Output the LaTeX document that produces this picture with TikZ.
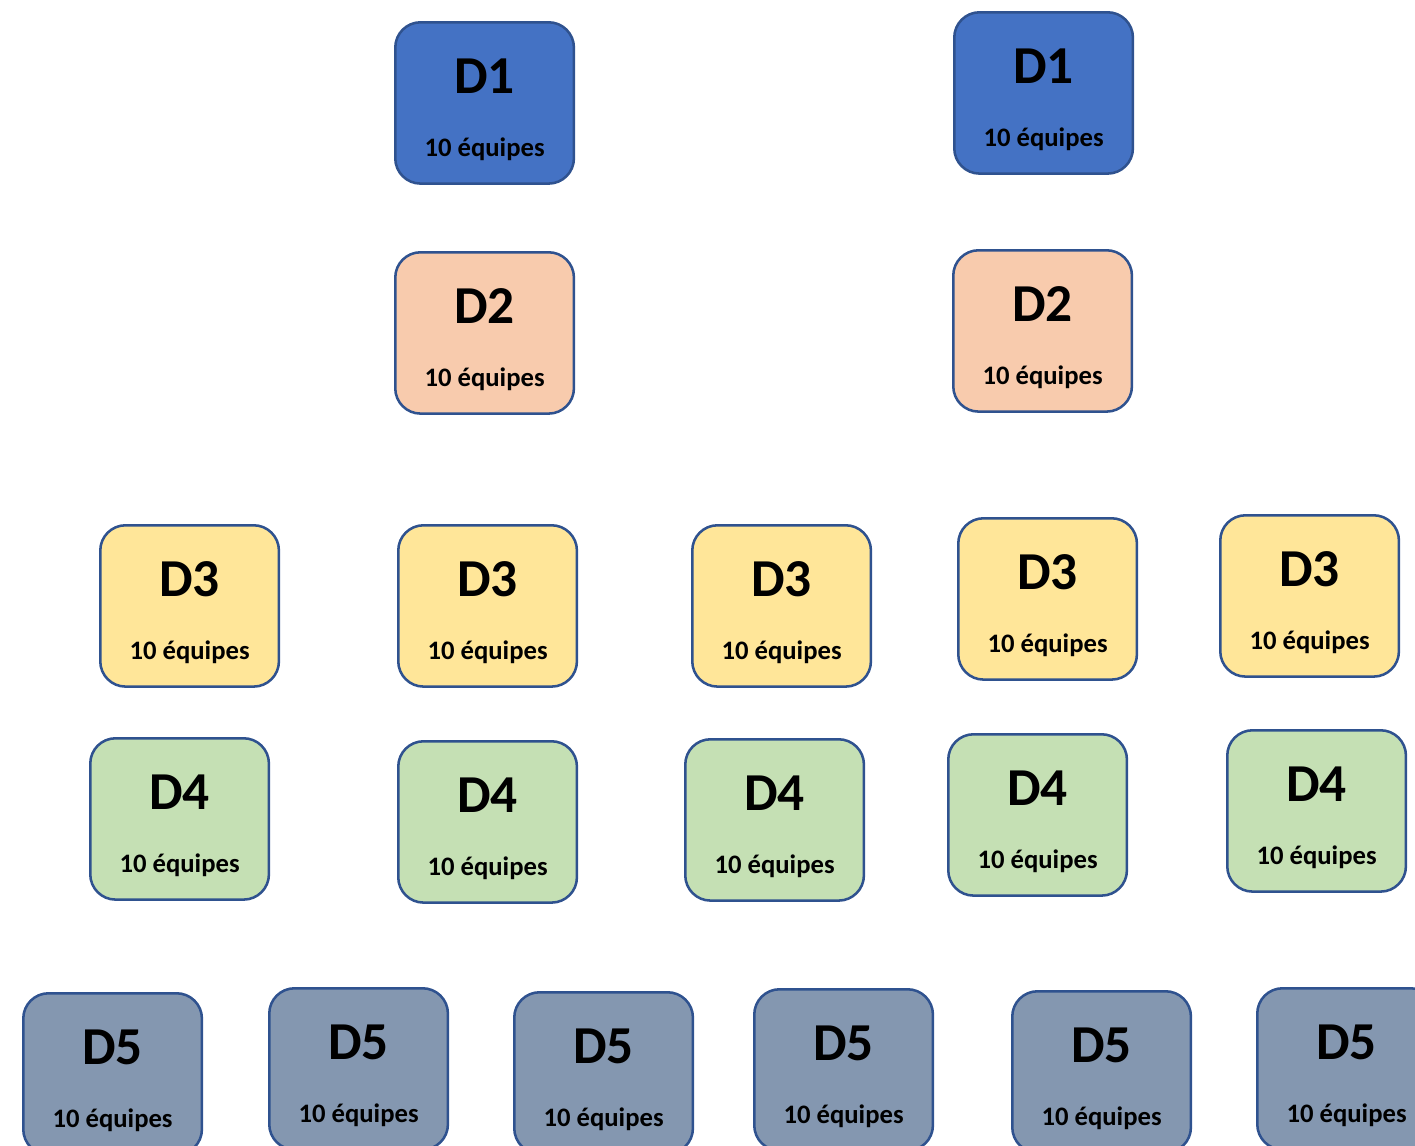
\documentclass[tikz,border=0pt]{standalone}
\usepackage{fontspec}
\setmainfont{Carlito}
\begin{document}
\begin{tikzpicture}[x=0.75pt,y=-0.75pt,
  tile/.style={draw=bordercol,line width=1.9pt,rounded corners=19pt,minimum width=134pt,minimum height=121pt,inner sep=0pt},
  ttl/.style={font=\bfseries\fontsize{40}{40}\selectfont},
  sub/.style={font=\bfseries\fontsize{20}{20}\selectfont}]
\definecolor{bordercol}{HTML}{2F528F}
\definecolor{cA}{HTML}{4472C4}
\definecolor{cB}{HTML}{F8CBAD}
\definecolor{cC}{HTML}{FFE699}
\definecolor{cD}{HTML}{C5E0B4}
\definecolor{cE}{HTML}{8497B0}
\useasboundingbox (0,0) rectangle (1415,1146);
\clip (0,0) rectangle (1415,1146);
\newcommand{\tileat}[5]{% name, left, top, color, label
  \node[tile,fill=#4,anchor=north west] (#1) at (#2-1,#3-1) {};
  \node[ttl] (#1t) at ([yshift=-41.5pt]#1.north) {#5};
  \node[sub] (#1s) at ([yshift=-96.5pt]#1.north) {10 équipes};
}
\tileat{a1}{395}{22}{cA}{D1}
\tileat{a2}{954}{12}{cA}{D1}
\tileat{b1}{395}{252}{cB}{D2}
\tileat{b2}{953}{250}{cB}{D2}
\tileat{c1}{100}{525}{cC}{D3}
\tileat{c2}{398}{525}{cC}{D3}
\tileat{c3}{692}{525}{cC}{D3}
\tileat{c4}{958}{518}{cC}{D3}
\tileat{c5}{1220}{515}{cC}{D3}
\tileat{d1}{90}{738}{cD}{D4}
\tileat{d2}{398}{741}{cD}{D4}
\tileat{d3}{685}{739}{cD}{D4}
\tileat{d4}{948}{734}{cD}{D4}
\tileat{d5}{1227}{730}{cD}{D4}
\tileat{e1}{23}{993}{cE}{D5}
\tileat{e2}{269}{988}{cE}{D5}
\tileat{e3}{514}{992}{cE}{D5}
\tileat{e4}{754}{989}{cE}{D5}
\tileat{e5}{1012}{991}{cE}{D5}
\tileat{e6}{1257}{988}{cE}{D5}
\end{tikzpicture}
\end{document}
